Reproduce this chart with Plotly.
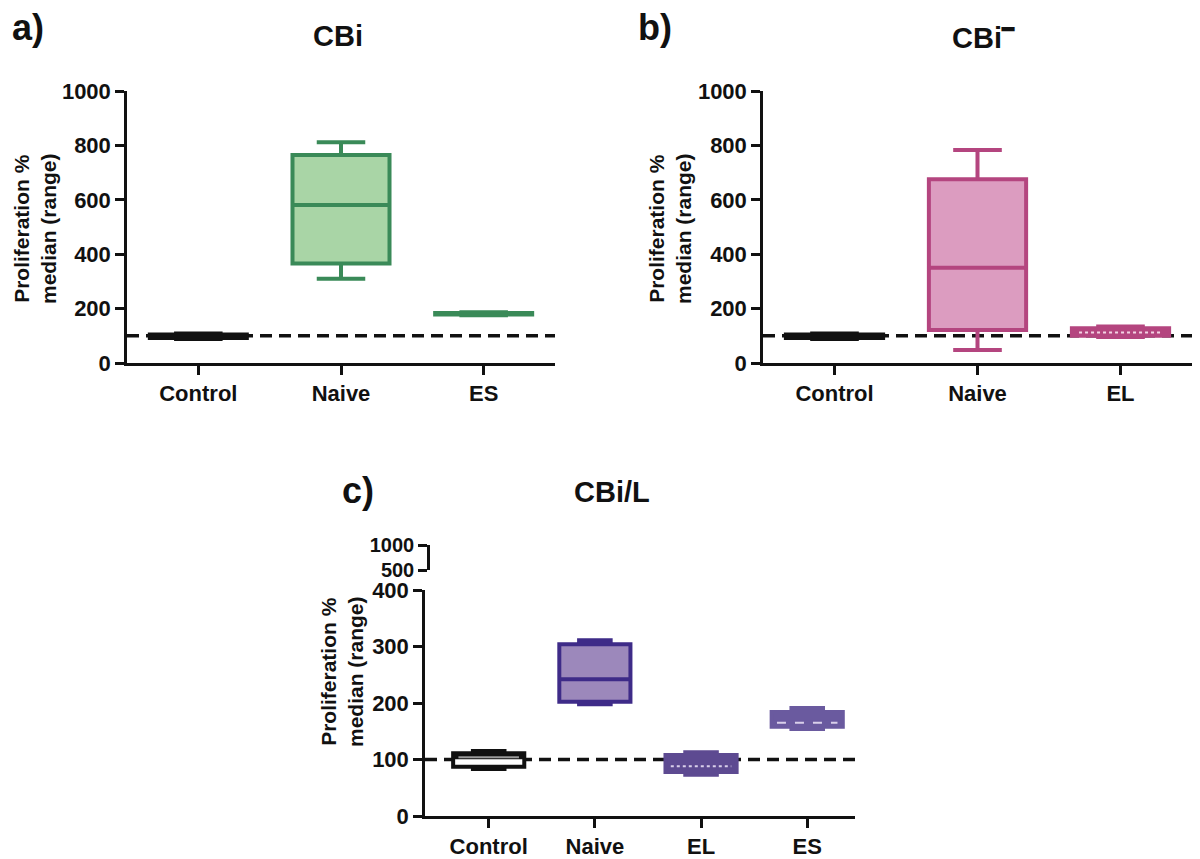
import plotly.graph_objects as go

W, H = 1200, 859
OFF = 8  # page body margin of the html page

# ---------------- data ----------------
cats_a = ["Control", "Naive", "ES"]
low_a = [88, 310, 176]
q1_a = [92, 366, 178]
med_a = [100, 581, 181]
q3_a = [105, 765, 184]
high_a = [108, 812, 187]

cats_b = ["Control", "Naive", "EL"]
low_b = [88, 48, 96]
q1_b = [92, 121, 100]
med_b = [100, 350, 112]
q3_b = [105, 676, 128]
high_b = [108, 783, 134]

cats_c = ["Control", "Naive", "EL", "ES"]
low_c = [83, 198, 73, 154]
q1_c = [87, 202, 78, 158]
med_c = [104, 242, 88, 165]
q3_c = [111, 304, 108, 184]
high_c = [115, 311, 113, 191]

ticks_main = [0, 200, 400, 600, 800, 1000]
ticks_c_low = [0, 100, 200, 300, 400]
ticks_c_high = [500, 1000]
reference_level = [100]

# ---------------- styles ----------------
line_a = ["#111111", "#3a8a58", "#3a8a58"]
fill_a = ["#111111", "#a9d5a6", "#3a8a58"]
line_b = ["#111111", "#b4457f", "#b4457f"]
fill_b = ["#111111", "#dc9cc0", "#b4457f"]
line_c = ["#111111", "#3e2b88", "#5d4a91", "#6a5a9f"]
fill_c = ["#ffffff", "#9c88bb", "#5d4a91", "#6a5a9f"]
# light median marks drawn inside boxes (None = not needed): (colour, dash)
median_mark_b = [None, None, ("#f3d3e4", "dot")]
median_mark_c = [("#9a9a9a", "solid"), None, ("#d9d0ea", "dot"), ("#d9d0ea", "dash")]

FONT = "Liberation Sans"
INK = "#111111"


def px_x(p):
    return (p - OFF) / W


def px_y(p):
    return 1 - (p - OFF) / H


fig = go.Figure()


def add_boxes(cats, lo, q1, md, q3, hi, lines, fills, xa, ya, lw, width):
    for i, c in enumerate(cats):
        fig.add_trace(go.Box(
            x=[c], q1=[q1[i]], median=[md[i]], q3=[q3[i]],
            lowerfence=[lo[i]], upperfence=[hi[i]],
            line=dict(color=lines[i], width=lw), fillcolor=fills[i],
            width=width, whiskerwidth=0.5, boxpoints=False,
            xaxis=xa, yaxis=ya, showlegend=False, hoverinfo="skip"))


def add_median_marks(marks, md, xa, ya, width):
    for i, m in enumerate(marks):
        if m is None:
            continue
        col, dash = m
        fig.add_shape(type="line", xref=xa, yref=ya,
                      x0=i - width / 2 + 0.05, x1=i + width / 2 - 0.05,
                      y0=md[i], y1=md[i],
                      line=dict(color=col, width=2, dash=dash), layer="above")


add_boxes(cats_a, low_a, q1_a, med_a, q3_a, high_a, line_a, fill_a, "x", "y", 4, 0.68)
add_boxes(cats_b, low_b, q1_b, med_b, q3_b, high_b, line_b, fill_b, "x2", "y2", 4, 0.68)
add_boxes(cats_c, low_c, q1_c, med_c, q3_c, high_c, line_c, fill_c, "x3", "y3", 4, 0.67)
add_median_marks(median_mark_b, med_b, "x2", "y2", 0.68)
add_median_marks(median_mark_c, med_c, "x3", "y3", 0.67)

# invisible trace so the upper broken-axis segment is drawn
fig.add_trace(go.Scatter(x=[cats_c[0]], y=[ticks_c_high[0]], xaxis="x4", yaxis="y4",
                         mode="markers", marker=dict(opacity=0), showlegend=False,
                         hoverinfo="skip"))

axis_common = dict(showline=True, linecolor=INK, linewidth=2.5,
                   ticks="outside", ticklen=9, tickwidth=2.5, tickcolor=INK,
                   showgrid=False, zeroline=False, automargin=False,
                   tickfont=dict(family=FONT, size=22, color=INK, weight="bold"))
axis_upper = dict(axis_common)
axis_upper["tickfont"] = dict(family=FONT, size=20, color=INK, weight="bold")

fig.update_layout(
    xaxis=dict(domain=[px_x(127), px_x(555)], anchor="y", type="category",
               categoryarray=cats_a, range=[-0.5, 2.5], **axis_common),
    yaxis=dict(domain=[px_y(363), px_y(91)], anchor="x", range=[0, 1000],
               tickvals=ticks_main, **axis_common),
    xaxis2=dict(domain=[px_x(763), px_x(1192)], anchor="y2", type="category",
                categoryarray=cats_b, range=[-0.5, 2.5], **axis_common),
    yaxis2=dict(domain=[px_y(363), px_y(91)], anchor="x2", range=[0, 1000],
                tickvals=ticks_main, **axis_common),
    xaxis3=dict(domain=[px_x(425), px_x(855)], anchor="y3", type="category",
                categoryarray=cats_c, range=[-0.6, 3.45], **axis_common),
    yaxis3=dict(domain=[px_y(816), px_y(590)], anchor="x3", range=[0, 400],
                tickvals=ticks_c_low, **axis_common),
    xaxis4=dict(domain=[px_x(425), px_x(855)], anchor="y4", type="category",
                categoryarray=cats_c, range=[-0.6, 3.45], visible=False,
                automargin=False),
    yaxis4=dict(domain=[px_y(570), px_y(545)], anchor="free", position=px_x(428),
                range=[500, 1000], tickvals=ticks_c_high, **axis_upper),
)

# reference dashed lines at 100
for xa, ya, x0, x1 in [("x", "y", -0.5, 2.5), ("x2", "y2", -0.5, 2.5), ("x3", "y3", -0.6, 3.45)]:
    fig.add_shape(type="line", xref=xa, yref=ya, x0=x0, x1=x1,
                  y0=reference_level[0], y1=reference_level[0],
                  line=dict(color=INK, width=3.5, dash="12px,7px"), layer="below")

anns = []
# panel letters
for txt, x, y in [("a)", 10, 28), ("b)", 636, 28), ("c)", 340, 490)]:
    anns.append(dict(text=f"<b>{txt}</b>", x=px_x(x), y=px_y(y), xref="paper", yref="paper",
                     xanchor="left", yanchor="middle", showarrow=False,
                     font=dict(family=FONT, size=36, color=INK)))
# titles
for txt, x, y in [("CBi", 338, 36), ("CBi<sup>━</sup>", 983, 36), ("CBi/L", 612, 492)]:
    anns.append(dict(text=f"<b>{txt}</b>", x=px_x(x), y=px_y(y), xref="paper", yref="paper",
                     xanchor="center", yanchor="middle", showarrow=False,
                     font=dict(family=FONT, size=29, color=INK)))
# y-axis titles
for x, y in [(35, 229), (670, 229), (342, 672)]:
    anns.append(dict(text="<b>Proliferation %<br>median (range)</b>", x=px_x(x), y=px_y(y),
                     xref="paper", yref="paper", xanchor="center", yanchor="middle",
                     textangle=-90, showarrow=False,
                     font=dict(family=FONT, size=21, color=INK)))

fig.update_layout(
    width=W, height=H, margin=dict(l=0, r=0, t=0, b=0, autoexpand=False),
    paper_bgcolor="white", plot_bgcolor="rgba(0,0,0,0)",
    annotations=anns, showlegend=False,
)

fig.write_html("out.html")
